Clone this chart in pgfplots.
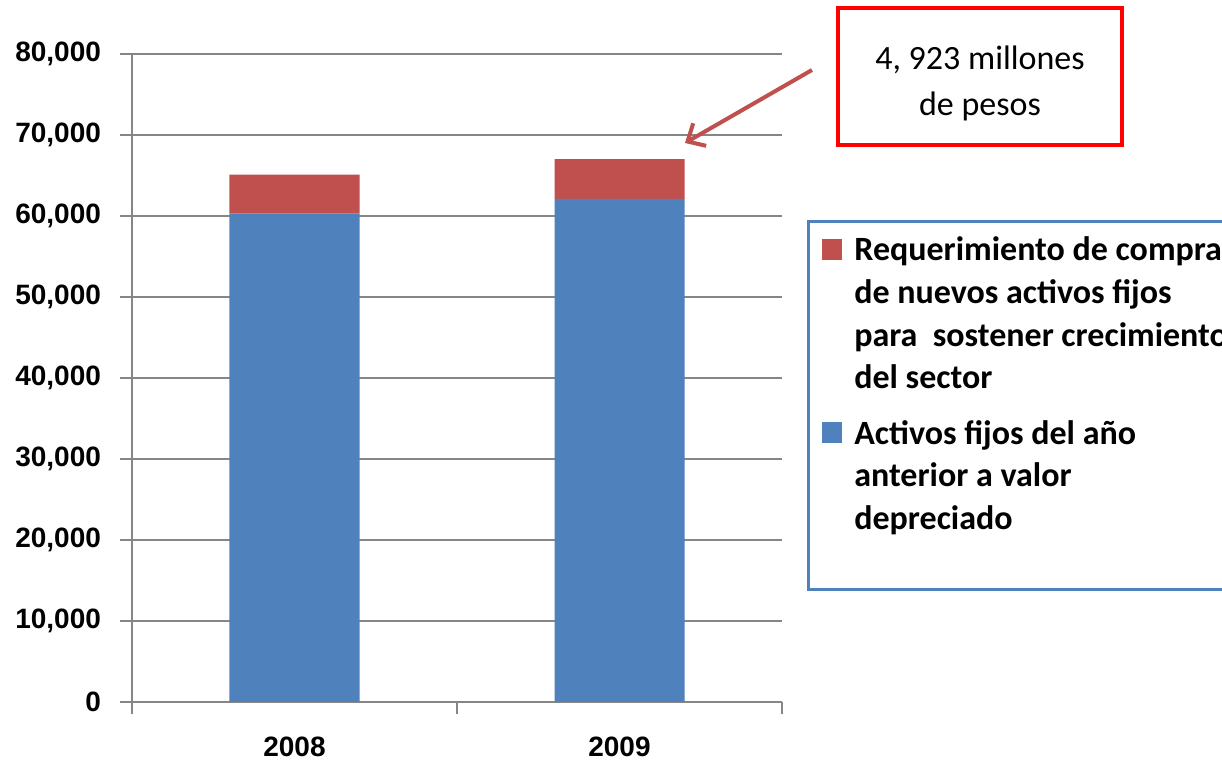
\documentclass[border=0pt]{standalone}
\usepackage{fontspec}
\setmainfont{Carlito}
\newfontfamily\arial{Liberation Sans}
\usepackage{pgfplots}
\pgfplotsset{compat=1.18}
\usetikzlibrary{arrows.meta}
\definecolor{barblue}{HTML}{4F81BD}
\definecolor{barred}{HTML}{C0504D}
\definecolor{gridgray}{HTML}{868686}
\begin{document}
\begin{tikzpicture}
\path[use as bounding box] (0,0) rectangle (611pt,380pt);
\begin{axis}[
  at={(66pt,29pt)}, anchor=south west,
  scale only axis, width=325pt, height=324pt,
  ybar stacked, bar width=65pt,
  xmin=-0.5, xmax=1.5, ymin=0, ymax=80000,
  xtick={-0.5,0.5,1.5}, xticklabels={},
  extra x ticks={0,1}, extra x tick labels={2008,2009},
  extra x tick style={major tick length=0pt, grid=none},
  ytick={0,10000,...,80000},
  axis x line=bottom, axis y line=left,
  axis line style={gridgray, line width=1.3pt, -},
  ymajorgrids, major grid style={gridgray, line width=1.3pt},
  tick align=outside, major tick length=6pt,
  tick style={gridgray, line width=1.3pt},
  ticklabel style={font=\arial\bfseries\fontsize{14}{16}\selectfont},
  xticklabel style={yshift=-14pt},
  yticklabel style={xshift=-6pt},
  /pgf/number format/assume math mode=true,
  /pgf/number format/1000 sep={,},
  scaled y ticks=false,
  reverse legend,
  legend image code/.code={\fill[#1] (0pt,-3pt) rectangle (10pt,-13.5pt);},
  legend style={draw=none, fill=none, at={(axis description cs:1.0522,0.731)},
    anchor=north west, row sep=10pt, cells={anchor=north west},
    /tikz/every odd column/.style={column sep=4pt},
    nodes={align=left, font=\bfseries\fontsize{17}{21.3}\selectfont, inner sep=2pt}},
]
\addplot[fill=barblue, draw=none] coordinates {(0,60300) (1,62100)};
\addlegendentry{Activos fijos del año\\anterior a valor\\depreciado}
\addplot[fill=barred, draw=none] coordinates {(0,4800) (1,4923)};
\addlegendentry{Requerimiento de compra\\de nuevos activos fijos\\para~ sostener crecimiento\\del sector}
\end{axis}
\draw[barblue, line width=1.5pt] (404pt,85pt) rectangle (650pt,269pt);
\draw[red, line width=2pt] (419pt,307.5pt) rectangle (561pt,376pt);
\node[align=center, font=\fontsize{17}{23}\selectfont] at (490pt,338.5pt) {4, 923 millones\\de pesos};
\draw[barred, line width=2pt, -{Straight Barb[length=7pt,width=13pt]}] (406pt,345pt) -- (342.5pt,308.5pt);
\end{tikzpicture}
\end{document}
